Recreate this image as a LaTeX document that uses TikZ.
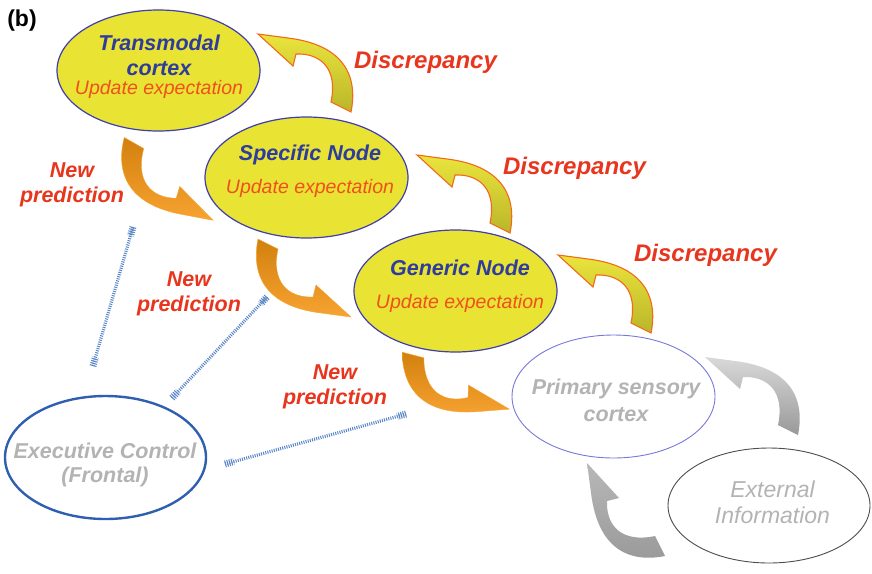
\documentclass[tikz,border=0pt]{standalone}
\usepackage{fontspec}
\setmainfont{Liberation Sans}
\usetikzlibrary{positioning,shapes.geometric,calc}

\definecolor{cellyellow}{HTML}{E9E333}
\definecolor{cellblue}{HTML}{3E3EAE}
\definecolor{titleblue}{HTML}{2E3C9E}
\definecolor{updred}{HTML}{F0501E}
\definecolor{labelred}{HTML}{E8351E}
\definecolor{softgray}{HTML}{B3B3B3}
\definecolor{hatchblue}{HTML}{5A86C8}
\definecolor{sensblue}{HTML}{7878D8}
\definecolor{execblue}{HTML}{2F5FB0}
\definecolor{predtail}{HTML}{D2800E}
\definecolor{predhead}{HTML}{F7A331}

\newcommand{\updline}[1]{{\fontsize{19.5}{22}\selectfont\mdseries\itshape\color{updred}#1}}

\tikzset{
  bentarrow/.pic={
    \path[bent look] (10,5) .. controls (17,-30) and (4,-62) .. (-53,-69)
      -- (-83,-73) -- (-48,-41) -- (-45,-53)
      .. controls (-20,-54) and (-3,-38) .. (-10,-5) -- cycle;
  },
  discbend/.style={bent look/.style={top color=cellyellow!95!white, bottom color=cellyellow!80!black, draw=updred!85!yellow, line width=1.1pt}},
  predbend/.style={bent look/.style={top color=predtail, bottom color=predhead, draw=predhead, line width=0.4pt}},
  graybend/.style={bent look/.style={top color=#1, bottom color=black!40, draw=none}}
}

\begin{document}
\begin{tikzpicture}[x=1pt, y=-1pt,
    cell/.style={ellipse, draw=cellblue, fill=cellyellow, line width=1.2pt, minimum width=203pt, minimum height=121pt, inner sep=0pt},
    celltext/.style={align=center, inner sep=0pt, text=titleblue, font=\fontsize{21.5}{22}\selectfont\bfseries\itshape},
    graytext/.style={align=center, inner sep=0pt, text=softgray, font=\fontsize{21.5}{22}\selectfont\bfseries\itshape},
    redlabel/.style={align=center, inner sep=0pt, text=labelred, font=\fontsize{21.5}{22}\selectfont\bfseries\itshape},
    hatch/.style={draw=hatchblue, line width=3.2pt, dash pattern=on 1pt off 1.2pt},
    hatchend/.style={draw=hatchblue, line width=7pt, dash pattern=on 1pt off 1.2pt}
  ]
  \useasboundingbox (0,0) rectangle (872,573);

  % panel letter
  \node (panel) [inner sep=0pt, font=\fontsize{23}{24}\selectfont\bfseries] at (22,21) {(b)};

  % ellipses
  \node (transmodal) [cell] at (158.5,70.5) {};
  \node (specific) [cell] at (306.5,177.5) {};
  \node (generic) [cell, minimum height=122pt] at (455.5,291) {};
  \node (primary) [ellipse, draw=sensblue, line width=0.9pt, minimum width=203pt, minimum height=123pt] at (613.5,396.5) {};
  \node (executive) [ellipse, draw=execblue, line width=2.4pt, minimum width=201pt, minimum height=123pt] at (105.5,457.5) {};
  \node (external) [ellipse, draw=black!70, line width=0.9pt, minimum width=202pt, minimum height=115pt] at (769,505.5) {};

  % texts inside the ellipses
  \node (transmodal-txt) [celltext] at (159,66.5) {Transmodal\\[3.3pt]cortex\\[-3pt]\updline{Update expectation}};
  \node (specific-txt) [celltext] at (310,170.9) {Specific Node\\[11pt]\updline{Update expectation}};
  \node (generic-txt) [celltext] at (460,285.9) {Generic Node\\[11pt]\updline{Update expectation}};
  \node (primary-txt) [graytext] at (616,400.8) {Primary sensory\\[5pt]cortex};
  \node (executive-txt) [graytext] at (105,464.5) {Executive Control\\[2pt](Frontal)};
  \node (external-txt) [graytext, font=\fontsize{23}{22}\selectfont\mdseries\itshape] at (772.5,501.8) {External\\[4pt]Information};

  % labels
  \node (disc1) [redlabel, anchor=base, font=\fontsize{24}{24}\selectfont\bfseries\itshape] at (425.5,68) {Discrepancy};
  \node (disc2) [redlabel, anchor=base, font=\fontsize{24}{24}\selectfont\bfseries\itshape] at (574.5,174) {Discrepancy};
  \node (disc3) [redlabel, anchor=base, font=\fontsize{24}{24}\selectfont\bfseries\itshape] at (705.5,261) {Discrepancy};
  \node (pred1) [redlabel] at (72,184.5) {New\\[3pt]prediction};
  \node (pred2) [redlabel] at (189,294) {New\\[3pt]prediction};
  \node (pred3) [redlabel] at (335,387) {New\\[3pt]prediction};

  % bent arrows
  \pic[discbend] at (341,107) {bentarrow};
  \pic[discbend] at (500,228) {bentarrow};
  \pic[discbend] at (641,328) {bentarrow};
  \pic[predbend, rotate=177] at (134,143) {bentarrow};
  \pic[predbend, rotate=180] at (268,244) {bentarrow};
  \pic[predbend, rotate=192] at (413,355) {bentarrow};
  \pic[graybend=black!15] at (788,430) {bentarrow};
  \pic[graybend=black!28, cm={0,-1,-1,0,(0,0)}] at (660,546) {bentarrow};

  % links from executive control
  \coordinate (ctl-a1) at (93,366);
  \coordinate (ctl-a2) at (133,227);
  \coordinate (ctl-b1) at (172,398);
  \coordinate (ctl-b2) at (267,297);
  \coordinate (ctl-c1) at (225,464);
  \coordinate (ctl-c2) at (406,414);
  \foreach \p/\q in {ctl-a1/ctl-a2, ctl-b1/ctl-b2, ctl-c1/ctl-c2} {
    \draw[hatch] (\p) -- (\q);
    \draw[hatchend] (\p) -- ($(\p)!9pt!(\q)$);
    \draw[hatchend] (\q) -- ($(\q)!9pt!(\p)$);
  }
\end{tikzpicture}
\end{document}
